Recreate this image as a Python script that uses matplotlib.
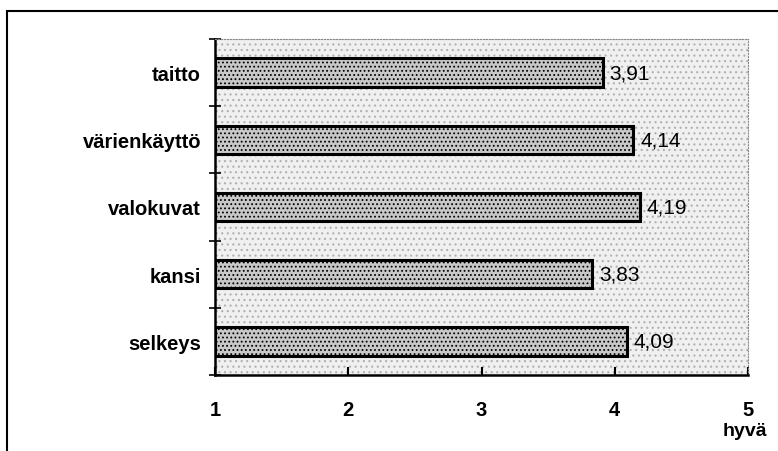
import numpy as np
import matplotlib
matplotlib.use("Agg")
import matplotlib.pyplot as plt
from matplotlib.patches import Rectangle

# Arvosanat (1-5), ylhäältä alas
categories = ["taitto", "värienkäyttö", "valokuvat", "kansi", "selkeys"]
scores = [3.91, 4.14, 4.19, 3.83, 4.09]
xticks = [1, 2, 3, 4, 5]

plt.rcParams["hatch.color"] = "#9a9a9a"
plt.rcParams["hatch.linewidth"] = 0.8

W, H = 778, 452
fig = plt.figure(figsize=(W / 100, H / 100), dpi=100)
fig.patch.set_facecolor("white")

# outer frame (right and bottom edges fall off the page)
fig.patches.append(Rectangle((7 / W, -0.05), 1.1, 1 - 12 / H + 0.05,
                             transform=fig.transFigure, fill=False,
                             edgecolor="black", linewidth=1.5))

ax = fig.add_axes([215 / W, 1 - 376 / H, (748 - 215) / W, (376 - 40) / H])
ax.set_facecolor("#f0f0f0")
# dotted plot-area fill
ax.add_patch(Rectangle((0, 0), 1, 1, transform=ax.transAxes, facecolor="none",
                       edgecolor="#b0b0b0", linewidth=0, hatch="...", zorder=0.5))

y = np.arange(len(categories))
ax.barh(y, [s - 1 for s in scores], left=1, height=0.42,
        color="#c8c8c8", edgecolor="black", linewidth=2.2, hatch="....",
        zorder=2)

for yi, s in zip(y, scores):
    ax.text(s + 0.05, yi, f"{s:.2f}".replace(".", ","), va="center", ha="left",
            fontsize=15, family="Liberation Sans")

ax.set_xlim(1, 5)
ax.set_ylim(len(categories) - 0.5, -0.5)
ax.set_xticks(xticks)
ax.set_xticklabels([str(t) for t in xticks], fontsize=14.5, fontweight="bold",
                   family="Liberation Sans")
ax.tick_params(axis="x", direction="in", length=6, width=1.5, pad=18)

# category labels sit between the boundary ticks
ax.set_yticks(np.arange(len(categories) + 1) - 0.5)
ax.set_yticklabels([])
ax.set_yticks(y, minor=True)
ax.set_yticklabels(categories, minor=True, fontsize=14.5, fontweight="bold",
                   family="Liberation Sans")
ax.tick_params(axis="y", which="major", direction="inout", length=9, width=1.2)
ax.tick_params(axis="y", which="minor", length=0, pad=10)

for side in ["left", "bottom"]:
    ax.spines[side].set_linewidth(1.8)
for side in ["top", "right"]:
    ax.spines[side].set_linestyle(":")
    ax.spines[side].set_color("#888888")

fig.text(745 / W, 1 - 432 / H, "hyvä", ha="center", va="center",
         fontsize=14, fontweight="bold", family="Liberation Sans")

fig.savefig("out.png", dpi=100)
